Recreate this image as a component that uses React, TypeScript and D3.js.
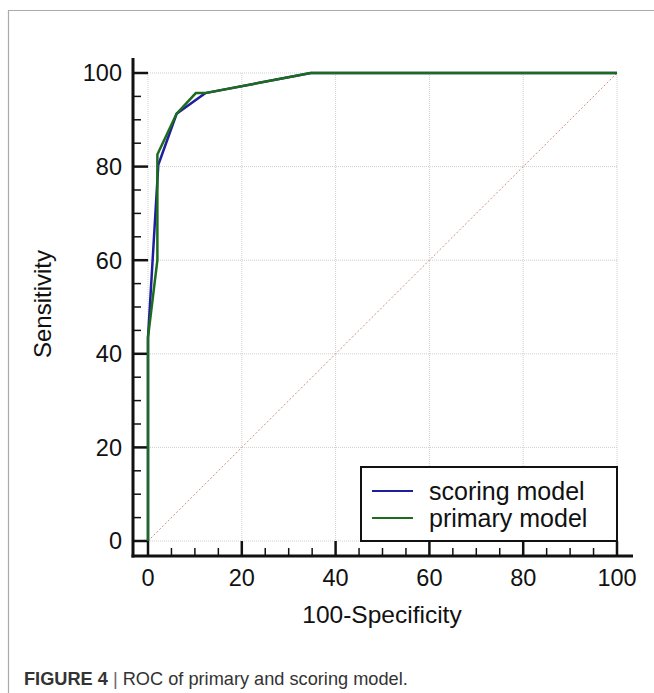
import React, { useEffect, useRef } from "react";
import * as d3 from "d3";

// ROC points (100-Specificity, Sensitivity)
const scoringX = [0, 0, 2.2, 6.1, 12.2, 34.7, 100];
const scoringY = [0, 43.5, 80.4, 91.3, 95.7, 100, 100];
const primaryX = [0, 0, 2.0, 2.0, 6.1, 10.2, 12.2, 34.7, 100];
const primaryY = [0, 43.5, 60.0, 82.6, 91.3, 95.7, 95.7, 100, 100];
const seriesNames = ["scoring model", "primary model"];
const seriesColors = ["#1f1f9e", "#1d6b1d"];
const majorTicks = [0, 20, 40, 60, 80, 100];

const FONT = "'Liberation Sans', Arial, sans-serif";

const App = () => {
  const ref = useRef<SVGSVGElement | null>(null);

  useEffect(() => {
    const svg = d3.select(ref.current);
    svg.selectAll("*").remove();

    const x = d3.scaleLinear().domain([0, 100]).range([148, 617]);
    const y = d3.scaleLinear().domain([0, 100]).range([541, 73]);
    const axisX = 133;
    const axisY = 556;

    // frame of the figure
    svg.append("line").attr("x1", 8.5).attr("x2", 8.5).attr("y1", 10).attr("y2", 693)
      .attr("stroke", "#aaa").attr("stroke-width", 1.2);
    svg.append("line").attr("x1", 8).attr("x2", 654).attr("y1", 10.5).attr("y2", 10.5)
      .attr("stroke", "#aaa").attr("stroke-width", 1.2);

    // grid
    const grid = svg.append("g");
    majorTicks.forEach((t) => {
      grid.append("line").attr("x1", x(t)).attr("x2", x(t)).attr("y1", y(100)).attr("y2", y(0))
        .attr("stroke", "#cfcfcf").attr("stroke-dasharray", "1,1");
      grid.append("line").attr("x1", x(0)).attr("x2", x(100)).attr("y1", y(t)).attr("y2", y(t))
        .attr("stroke", "#cfcfcf").attr("stroke-dasharray", "1,1");
    });

    // diagonal reference
    svg.append("line").attr("x1", x(0)).attr("y1", y(0)).attr("x2", x(100)).attr("y2", y(100))
      .attr("stroke", "#d88a8a").attr("stroke-width", 1).attr("stroke-dasharray", "2,2");

    // axes
    const minor = d3.range(0, 101, 5);
    const ax = svg.append("g");
    ax.append("line").attr("x1", axisX).attr("x2", axisX).attr("y1", 58).attr("y2", axisY + 1.5)
      .attr("stroke", "#111").attr("stroke-width", 3);
    ax.append("line").attr("x1", axisX - 1.5).attr("x2", 633).attr("y1", axisY).attr("y2", axisY)
      .attr("stroke", "#111").attr("stroke-width", 3);
    minor.forEach((t) => {
      const major = t % 20 === 0;
      ax.append("line").attr("x1", axisX).attr("x2", axisX + (major ? 15 : 8))
        .attr("y1", y(t)).attr("y2", y(t))
        .attr("stroke", "#111").attr("stroke-width", major ? 2.5 : 1.5);
      ax.append("line").attr("x1", x(t)).attr("x2", x(t))
        .attr("y1", axisY).attr("y2", axisY - (major ? 15 : 8))
        .attr("stroke", "#111").attr("stroke-width", major ? 2.5 : 1.5);
    });
    majorTicks.forEach((t) => {
      ax.append("text").attr("x", 122).attr("y", y(t)).attr("dy", "0.36em")
        .attr("text-anchor", "end").attr("font-family", FONT).attr("font-size", 23.5)
        .attr("fill", "#111").text(t);
      ax.append("text").attr("x", x(t)).attr("y", 578).attr("dy", "0.36em")
        .attr("text-anchor", "middle").attr("font-family", FONT).attr("font-size", 23.5)
        .attr("fill", "#111").text(t);
    });
    svg.append("text").attr("x", 382).attr("y", 614).attr("dy", "0.36em")
      .attr("text-anchor", "middle").attr("font-family", FONT).attr("font-size", 24.5)
      .attr("fill", "#111").text("100-Specificity");
    svg.append("text").attr("transform", `translate(42,304) rotate(-90)`)
      .attr("dy", "0.36em").attr("text-anchor", "middle").attr("font-family", FONT)
      .attr("font-size", 24).attr("fill", "#111").text("Sensitivity");

    // curves
    const line = d3.line<[number, number]>().x((d) => x(d[0])).y((d) => y(d[1]));
    const series: [number, number][][] = [
      scoringX.map((v, i) => [v, scoringY[i]]),
      primaryX.map((v, i) => [v, primaryY[i]]),
    ];
    series.forEach((s, i) => {
      svg.append("path").attr("d", line(s)).attr("fill", "none")
        .attr("stroke", seriesColors[i]).attr("stroke-width", 2.5)
        .attr("stroke-linejoin", "miter");
    });

    // legend
    const lg = svg.append("g");
    lg.append("rect").attr("x", 361).attr("y", 467).attr("width", 256).attr("height", 74)
      .attr("fill", "white").attr("stroke", "#111").attr("stroke-width", 2);
    seriesNames.forEach((n, i) => {
      const ly = 491 + i * 27;
      lg.append("line").attr("x1", 372).attr("x2", 413).attr("y1", ly).attr("y2", ly)
        .attr("stroke", seriesColors[i]).attr("stroke-width", 1.8);
      lg.append("text").attr("x", 429).attr("y", ly).attr("dy", "0.34em")
        .attr("font-family", FONT).attr("font-size", 25).attr("fill", "#111").text(n);
    });

    // caption
    const cap = svg.append("text").attr("x", 24).attr("y", 685)
      .attr("font-family", FONT).attr("font-size", 18.2).attr("fill", "#333");
    cap.append("tspan").attr("font-weight", "bold").text("FIGURE 4");
    cap.append("tspan").attr("fill", "#666").text(" | ");
    cap.append("tspan").text("ROC of primary and scoring model.");
  }, []);

  return (
    <svg
      ref={ref}
      width={654}
      height={693}
      style={{ position: "absolute", left: 0, top: 0, background: "white" }}
    />
  );
};

export default App;
